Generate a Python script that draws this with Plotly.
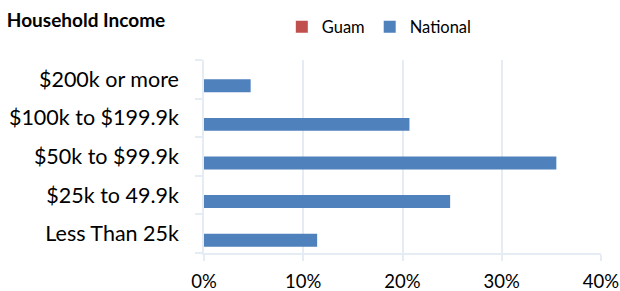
import plotly.graph_objects as go

categories = ["Less Than 25k", "$25k to 49.9k", "$50k to $99.9k", "$100k to $199.9k", "$200k or more"]
national = [0.114, 0.248, 0.355, 0.207, 0.047]
guam = [0, 0, 0, 0, 0]
x_ticks = [0, 0.1, 0.2, 0.3, 0.4]
x_tick_labels = ["0%", "10%", "20%", "30%", "40%"]

FONT = "Lato, 'Open Sans', sans-serif"
GRID = "#E6ECF4"

fig = go.Figure()
fig.add_trace(go.Bar(y=categories, x=national, name="National", orientation="h",
                     marker=dict(color="#4F81BD", line=dict(width=0)), legendrank=2))
fig.add_trace(go.Bar(y=categories, x=guam, name="Guam", orientation="h",
                     marker=dict(color="#C0504D", line=dict(width=0)), legendrank=1))

fig.update_layout(
    width=620, height=291,
    margin=dict(l=204, r=19, t=60, b=38, autoexpand=False),
    paper_bgcolor="white", plot_bgcolor="white",
    barmode="group", bargap=0.33, bargroupgap=0,
    font=dict(family=FONT, color="#000000"),
    title=dict(text="<b>Household Income</b>", x=0.011, xanchor="left", y=0.931, yanchor="middle",
               font=dict(family=FONT, size=19, color="#000000")),
    legend=dict(orientation="h", x=0.196, xanchor="left", y=1.171, yanchor="middle",
                font=dict(family=FONT, size=16.5, color="#000000"),
                bgcolor="rgba(0,0,0,0)"),
    showlegend=True,
)
fig.update_xaxes(range=[0, 0.4], tickvals=x_ticks, ticktext=x_tick_labels,
                 showgrid=True, gridcolor=GRID, gridwidth=1.5,
                 showline=True, linecolor=GRID, linewidth=1.5,
                 ticks="outside", ticklen=6, tickcolor=GRID, tickwidth=1.5,
                 tickfont=dict(family=FONT, size=18.5, color="#000000"),
                 ticklabelstandoff=5, ticklabeloverflow="allow",
                 zeroline=False, automargin=False)
fig.update_yaxes(categoryorder="array", categoryarray=categories,
                 showgrid=False, showline=True, linecolor=GRID, linewidth=1.5,
                 ticks="outside", ticklen=7, tickcolor=GRID, tickwidth=1.5, tickson="boundaries",
                 tickfont=dict(family=FONT, size=21.5, color="#000000"),
                 ticklabelstandoff=19, automargin=False)

fig.write_html("out.html", config={"displayModeBar": False},
               post_script="document.body.style.margin='0';document.body.style.overflow='hidden';")
